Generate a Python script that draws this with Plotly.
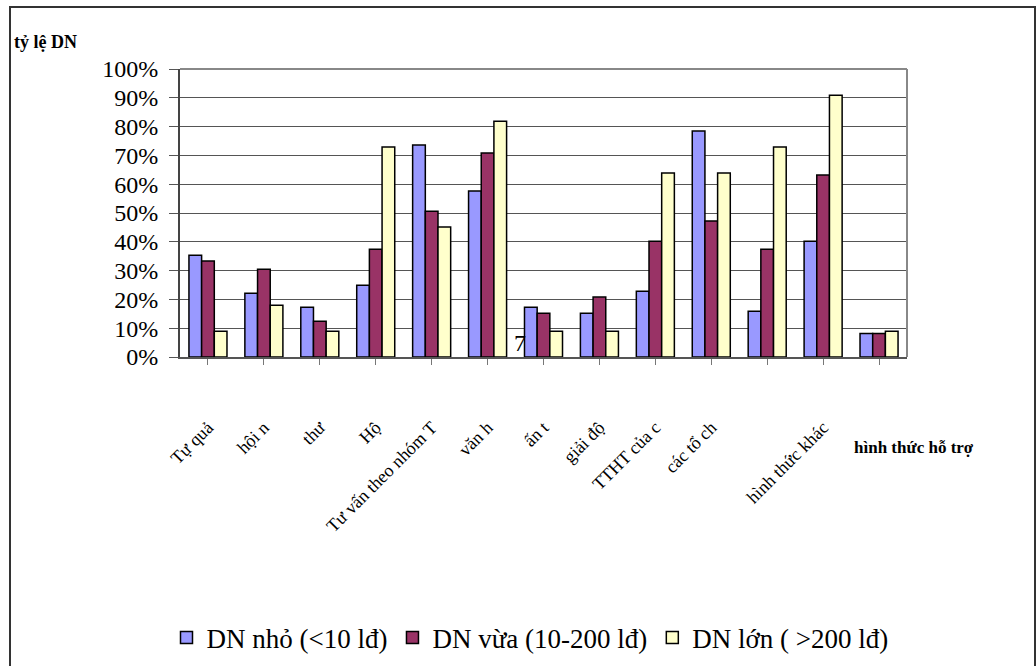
import plotly.graph_objects as go

categories = ["Tự quả", "hội n", "thư", "Hộ", "Tư vấn theo nhóm T", "văn h", "ấn t",
              "giải độ", "TTHT của c", "các tổ ch", "", "hình thức khác", ""]
dn_nho = [35.3, 22.1, 17.3, 24.9, 73.6, 57.6, 17.3, 15.2, 22.8, 78.5, 15.9, 40.2, 8.2]
dn_vua = [33.3, 30.5, 12.4, 37.4, 50.6, 70.8, 15.2, 20.8, 40.2, 47.2, 37.4, 63.2, 8.2]
dn_lon = [8.9, 18.0, 8.9, 72.9, 45.1, 81.9, 8.9, 8.9, 63.9, 63.9, 72.9, 90.9, 8.9]
series_names = ["DN nhỏ (<10 lđ)", "DN vừa (10-200 lđ)", "DN lớn ( >200 lđ)"]
colors = ["#9999FF", "#993366", "#FFFFCC"]
stray_text = "7"

SERIF = "Liberation Serif, Times New Roman, serif"

idx = list(range(len(categories)))
fig = go.Figure()
for name, vals, c in zip(series_names, [dn_nho, dn_vua, dn_lon], colors):
    fig.add_trace(go.Bar(x=idx, y=[v / 100 for v in vals], name=name,
                         marker=dict(color=c, line=dict(color="black", width=1.5))))

W, H = 1036, 666
L, R, T, B = 180, 129, 69, 309
pw, ph = W - L - R, H - T - B

def px(x):
    return (x - L) / pw

def py(y):
    return (H - B - y) / ph

fig.update_layout(
    width=W, height=H,
    margin=dict(l=L, r=R, t=T, b=B, autoexpand=False),
    paper_bgcolor="white", plot_bgcolor="white",
    barmode="group", bargap=0.32, bargroupgap=0,
    font=dict(family=SERIF, color="black"),
    showlegend=True,
    legend=dict(orientation="h", x=px(530), xanchor="center", y=py(638), yanchor="middle",
                font=dict(size=27, family=SERIF, color="black"), traceorder="normal"),
    xaxis=dict(tickmode="array", tickvals=idx, ticktext=categories, range=[-0.5, len(categories) - 0.5],
               tickangle=-45, tickson="boundaries", ticks="outside", ticklen=6, tickcolor="#777",
               showline=True, linecolor="#555", linewidth=2, mirror=False, automargin=False,
               tickfont=dict(size=18, family=SERIF), ticklabelstandoff=45,
               showgrid=False),
    yaxis=dict(range=[0, 1], dtick=0.1, tickformat=".0%", ticks="outside", ticklen=9,
               tickcolor="#555", showline=True, linecolor="#444", linewidth=2, automargin=False,
               showgrid=True, gridcolor="#555", gridwidth=1, ticklabelstandoff=6,
               tickfont=dict(size=24, family=SERIF), zeroline=False),
    annotations=[
        dict(text="<b>tỷ lệ DN</b>", xref="paper", yref="paper", x=px(12), y=py(42),
             xanchor="left", yanchor="middle", showarrow=False,
             font=dict(size=18, family=SERIF)),
        dict(text="<b>hình thức hỗ trợ</b>", xref="paper", yref="paper", x=px(852), y=py(447),
             xanchor="left", yanchor="middle", showarrow=False,
             font=dict(size=17, family=SERIF)),
        dict(text=stray_text, xref="x", yref="y", x=6 - 0.42, y=0.05,
             xanchor="center", yanchor="middle", showarrow=False,
             font=dict(size=24, family=SERIF)),
    ],
    shapes=[
        dict(type="line", xref="paper", yref="paper", x0=0, x1=1, y0=1, y1=1,
             line=dict(color="#888", width=2)),
        dict(type="line", xref="paper", yref="paper", x0=1, x1=1, y0=0, y1=1,
             line=dict(color="#888", width=2)),
        dict(type="rect", xref="paper", yref="paper", x0=px(10), x1=px(1035), y0=py(7), y1=py(680),
             line=dict(color="#333", width=2), layer="above"),
    ],
)

fig.write_html("out.html", config={"displayModeBar": False},
               post_script="document.body.style.margin='0px';document.body.style.overflow='hidden';")
